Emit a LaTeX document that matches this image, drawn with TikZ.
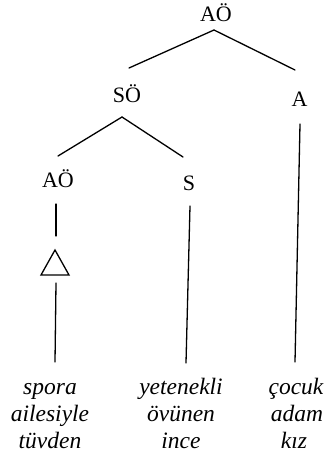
\documentclass[tikz,border=0pt]{standalone}
\usepackage{fontspec}
\setmainfont{Liberation Serif}
\begin{document}
\begin{tikzpicture}[x=1pt,y=-1pt,
  lab/.style={anchor=base,inner sep=0pt,font=\fontsize{22}{26}\selectfont},
  word/.style={anchor=base,inner sep=0pt,font=\fontsize{23.5}{27}\selectfont\itshape},
  branch/.style={line width=1.3pt,line cap=round}]
\useasboundingbox (0,0) rectangle (329,466);
% labels
\node[lab] (ao1) at (216,21) {AÖ};
\node[lab] (so) at (127,102) {SÖ};
\node[lab] (a) at (299.5,106) {A};
\node[lab] (ao2) at (58,187) {AÖ};
\node[lab] (s) at (189,190) {S};
% words
\node[word] (w11) at (50,394) {spora};
\node[word] (w12) at (50,421) {ailesiyle};
\node[word] (w13) at (50,448) {tüvden};
\node[word] (w21) at (181,394) {yetenekli};
\node[word] (w22) at (181,421) {övünen};
\node[word] (w23) at (181,448) {ince};
\node[word] (w31) at (296,394) {çocuk};
\node[word] (w32) at (297,421) {adam};
\node[word] (w33) at (294,448) {kız};
% connector points
\coordinate (ao1b) at (214,30);
\coordinate (sot) at (129,68);
\coordinate (at) at (295,70);
\coordinate (sob) at (122,117);
\coordinate (ao2t) at (58,156);
\coordinate (st) at (183,157);
\coordinate (ab) at (300,124);
\coordinate (ae) at (295,362);
\coordinate (sb) at (190,206);
\coordinate (se) at (186,363);
\coordinate (ao2b) at (56,204);
\coordinate (ao2e) at (56,236);
\coordinate (tri1) at (55,250);
\coordinate (tri2) at (41,275);
\coordinate (tri3) at (69,275);
\coordinate (trib) at (56,283);
\coordinate (trie) at (55,362);
% branches
\draw[branch] (ao1b) -- (sot);
\draw[branch] (ao1b) -- (at);
\draw[branch] (sob) -- (ao2t);
\draw[branch] (sob) -- (st);
\draw[branch] (ab) -- (ae);
\draw[branch] (sb) -- (se);
\draw[branch] (ao2b) -- (ao2e);
\draw[branch,line join=miter] (tri1) -- (tri2) -- (tri3) -- cycle;
\draw[branch] (trib) -- (trie);
\end{tikzpicture}
\end{document}
